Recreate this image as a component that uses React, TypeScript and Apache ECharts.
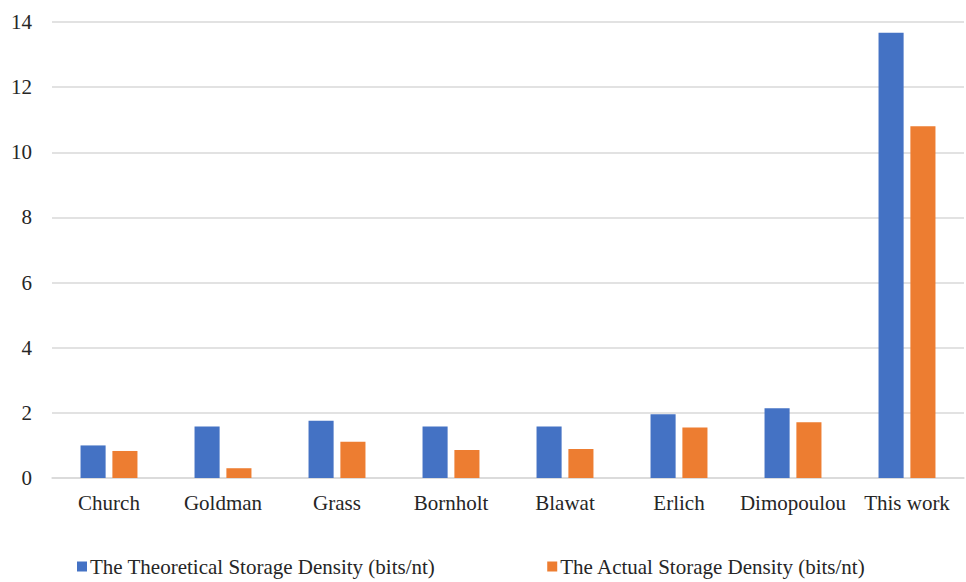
import React, { useEffect, useRef } from "react";
import * as echarts from "echarts";

const categories = ["Church", "Goldman", "Grass", "Bornholt", "Blawat", "Erlich", "Dimopoulou", "This work"];
const theoretical = [1.0, 1.58, 1.76, 1.58, 1.58, 1.96, 2.14, 13.67];
const actual = [0.83, 0.3, 1.11, 0.86, 0.89, 1.55, 1.71, 10.8];
const seriesNames = ["The Theoretical Storage Density (bits/nt)", "The Actual Storage Density (bits/nt)"];
const yTicks = { min: 0, max: 14, interval: 2 };

const FONT = '"Liberation Serif", "Times New Roman", serif';

export default function App() {
  const ref = useRef<HTMLDivElement>(null);

  useEffect(() => {
    if (!ref.current) return;
    const chart = echarts.init(ref.current, undefined, { renderer: "svg" });
    chart.setOption({
      animation: false,
      backgroundColor: "#ffffff",
      textStyle: { fontFamily: FONT },
      grid: { left: 52, right: 2, top: 22, bottom: 104, containLabel: false },
      legend: {
        bottom: 0,
        left: 72,
        itemGap: 112,
        itemWidth: 10,
        itemHeight: 10,
        icon: "rect",
        textStyle: { fontFamily: FONT, fontSize: 21, color: "#262626", padding: [0, 0, 0, -2] },
        data: seriesNames,
      },
      xAxis: {
        type: "category",
        data: categories,
        axisLine: { show: true, lineStyle: { color: "#d9d9d9", width: 1.5 } },
        axisTick: { show: false },
        axisLabel: { fontFamily: FONT, fontSize: 21, color: "#262626", margin: 14, interval: 0 },
      },
      yAxis: {
        type: "value",
        min: yTicks.min,
        max: yTicks.max,
        interval: yTicks.interval,
        axisLine: { show: false },
        axisTick: { show: false },
        axisLabel: { fontFamily: FONT, fontSize: 21, color: "#262626", margin: 20 },
        splitLine: { lineStyle: { color: "#d9d9d9", width: 1.5 } },
      },
      series: [
        {
          name: seriesNames[0],
          type: "bar",
          data: theoretical,
          barWidth: "22%",
          barGap: "27%",
          itemStyle: { color: "#4472C4" },
        },
        {
          name: seriesNames[1],
          type: "bar",
          data: actual,
          barWidth: "22%",
          itemStyle: { color: "#ED7D31" },
        },
      ],
    });
    return () => chart.dispose();
  }, []);

  return <div ref={ref} style={{ width: 966, height: 582, position: "absolute", left: 0, top: 0 }} />;
}
